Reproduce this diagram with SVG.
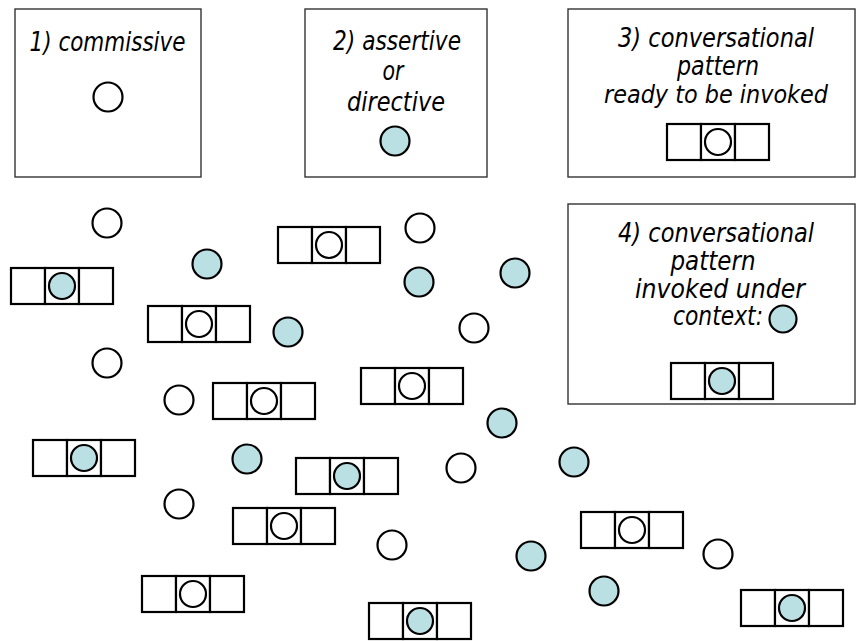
<svg xmlns="http://www.w3.org/2000/svg" xmlns:xlink="http://www.w3.org/1999/xlink" width="856" height="641" viewBox="0 0 856 641">
<style>
.box{fill:#fff;stroke:#333;stroke-width:1.4}
.cell{fill:#fff;stroke:#000;stroke-width:2.2}
.w{fill:#fff;stroke:#000;stroke-width:2.2}
.b{fill:#bbe0e3;stroke:#000;stroke-width:2.2}
.t{font-family:"DejaVu Sans","Liberation Sans",sans-serif;font-style:italic;font-size:26px;fill:#000;text-anchor:middle}
</style>
<defs>
<g id="cells">
<rect class="cell" x="0" y="0" width="34" height="36"/>
<rect class="cell" x="34" y="0" width="34" height="36"/>
<rect class="cell" x="68" y="0" width="34" height="36"/>
</g>
</defs>
<rect width="856" height="641" fill="#fff"/>

<g id="legend1">
<rect class="box" x="15" y="9" width="186" height="168"/>
<text class="t" x="107.5" y="51" textLength="156" lengthAdjust="spacingAndGlyphs">1) commissive</text>
<circle class="w" cx="108" cy="97" r="14.5"/>
</g>
<g id="legend2">
<rect class="box" x="305" y="9" width="182" height="168"/>
<text class="t" x="397" y="50" textLength="128" lengthAdjust="spacingAndGlyphs">2) assertive</text>
<text class="t" x="393" y="80" textLength="21" lengthAdjust="spacingAndGlyphs">or</text>
<text class="t" x="396" y="110.5" textLength="98" lengthAdjust="spacingAndGlyphs">directive</text>
<circle class="b" cx="395" cy="141" r="14.5"/>
</g>
<g id="legend3">
<rect class="box" x="568" y="9" width="287" height="168"/>
<text class="t" x="716" y="46.5" textLength="196" lengthAdjust="spacingAndGlyphs">3) conversational</text>
<text class="t" x="718" y="75" textLength="82" lengthAdjust="spacingAndGlyphs">pattern</text>
<text class="t" x="716" y="103" style="font-size:24px" textLength="224" lengthAdjust="spacingAndGlyphs">ready to be invoked</text>
<g transform="translate(667,124)"><use xlink:href="#cells"/><circle class="w" cx="51" cy="18" r="13"/></g>
</g>
<g id="legend4">
<rect class="box" x="568" y="204" width="287" height="200"/>
<text class="t" x="716" y="241.5" textLength="196" lengthAdjust="spacingAndGlyphs">4) conversational</text>
<text class="t" x="713" y="270" textLength="85" lengthAdjust="spacingAndGlyphs">pattern</text>
<text class="t" x="720" y="297.5" textLength="170" lengthAdjust="spacingAndGlyphs">invoked under</text>
<text class="t" x="718" y="325" textLength="90" lengthAdjust="spacingAndGlyphs">context:</text>
<circle class="b" cx="783" cy="319" r="13.5"/>
<g transform="translate(671,363)"><use xlink:href="#cells"/><circle class="b" cx="51" cy="18" r="13"/></g>
</g>

<g id="p1" transform="translate(11,268)"><use xlink:href="#cells"/><circle class="b" cx="51" cy="18" r="13"/></g>
<g id="p2" transform="translate(148,306)"><use xlink:href="#cells"/><circle class="w" cx="51" cy="18" r="13"/></g>
<g id="p3" transform="translate(213,383)"><use xlink:href="#cells"/><circle class="w" cx="51" cy="18" r="13"/></g>
<g id="p4" transform="translate(278,227)"><use xlink:href="#cells"/><circle class="w" cx="51" cy="18" r="13"/></g>
<g id="p5" transform="translate(361,368)"><use xlink:href="#cells"/><circle class="w" cx="51" cy="18" r="13"/></g>
<g id="p6" transform="translate(33,440)"><use xlink:href="#cells"/><circle class="b" cx="51" cy="18" r="13"/></g>
<g id="p7" transform="translate(233,508)"><use xlink:href="#cells"/><circle class="w" cx="51" cy="18" r="13"/></g>
<g id="p8" transform="translate(142,576)"><use xlink:href="#cells"/><circle class="w" cx="51" cy="18" r="13"/></g>
<g id="p9" transform="translate(296,458)"><use xlink:href="#cells"/><circle class="b" cx="51" cy="18" r="13"/></g>
<g id="p10" transform="translate(369,603)"><use xlink:href="#cells"/><circle class="b" cx="51" cy="18" r="13"/></g>
<g id="p11" transform="translate(581,512)"><use xlink:href="#cells"/><circle class="w" cx="51" cy="18" r="13"/></g>
<g id="p12" transform="translate(741,590)"><use xlink:href="#cells"/><circle class="b" cx="51" cy="18" r="13"/></g>

<g id="c1"><circle class="w" cx="107" cy="223" r="14.5"/></g>
<g id="c2"><circle class="w" cx="107" cy="363" r="14.5"/></g>
<g id="c3"><circle class="w" cx="179" cy="400" r="14.5"/></g>
<g id="c4"><circle class="w" cx="420" cy="228" r="14.5"/></g>
<g id="c5"><circle class="w" cx="474" cy="328" r="14.5"/></g>
<g id="c6"><circle class="w" cx="179" cy="504" r="14.5"/></g>
<g id="c7"><circle class="w" cx="461" cy="468" r="14.5"/></g>
<g id="c8"><circle class="w" cx="392" cy="545" r="14.5"/></g>
<g id="c9"><circle class="w" cx="718" cy="554" r="14.5"/></g>
<g id="c10"><circle class="b" cx="207" cy="264" r="14.5"/></g>
<g id="c11"><circle class="b" cx="288" cy="332" r="14.5"/></g>
<g id="c12"><circle class="b" cx="419" cy="282" r="14.5"/></g>
<g id="c13"><circle class="b" cx="515" cy="273" r="14.5"/></g>
<g id="c14"><circle class="b" cx="502" cy="423" r="14.5"/></g>
<g id="c15"><circle class="b" cx="247" cy="459" r="14.5"/></g>
<g id="c16"><circle class="b" cx="574" cy="462" r="14.5"/></g>
<g id="c17"><circle class="b" cx="531" cy="556" r="14.5"/></g>
<g id="c18"><circle class="b" cx="604" cy="591" r="14.5"/></g>
</svg>
